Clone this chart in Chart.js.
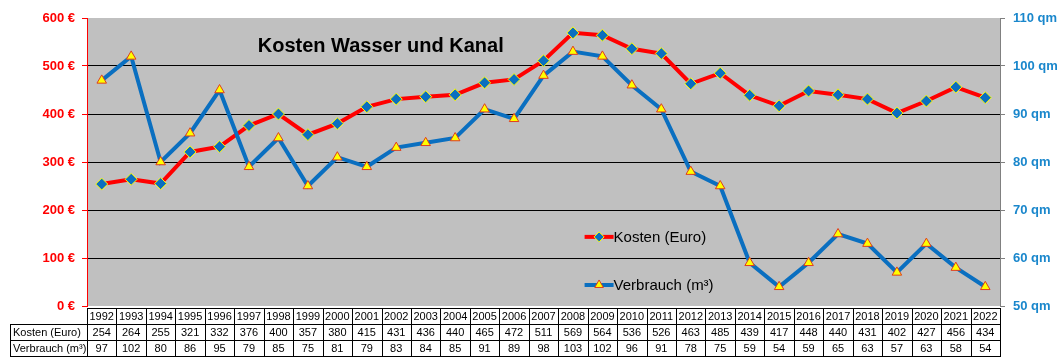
<!DOCTYPE html>
<html>
<head>
<meta charset="utf-8">
<script src="https://cdn.jsdelivr.net/npm/chart.js@4/dist/chart.umd.min.js"></script>
<style>
  html, body { margin: 0; padding: 0; background: #fff; }
  #wrap { width: 1060px; height: 359px; }
</style>
</head>
<body>
<div id="wrap"><canvas id="chart" width="1060" height="359"></canvas></div>
<script>
const years = ['1992','1993','1994','1995','1996','1997','1998','1999','2000','2001','2002','2003','2004','2005','2006','2007','2008','2009','2010','2011','2012','2013','2014','2015','2016','2017','2018','2019','2020','2021','2022'];
const kosten = [254,264,255,321,332,376,400,357,380,415,431,436,440,465,472,511,569,564,536,526,463,485,439,417,448,440,431,402,427,456,434];
const verbrauch = [97,102,80,86,95,79,85,75,81,79,83,84,85,91,89,98,103,102,96,91,78,75,59,54,59,65,63,57,63,58,54];
const rowLabels = ['Kosten (Euro)', 'Verbrauch (m³)'];
const chartTitle = 'Kosten Wasser und Kanal';

const RED = '#FF0000';
const BLUE = '#0A6FC0';
const AXIS_BLUE = '#1A87CC';
const YELLOW = '#FFFF00';

const panelPlugin = {
    id: 'panel',
    beforeDraw(chart) {
        const {ctx, chartArea: a} = chart;
        ctx.save();
        ctx.fillStyle = '#fff';
        ctx.fillRect(0, 0, chart.width, chart.height);
        ctx.fillStyle = '#C0C0C0';
        ctx.fillRect(a.left, a.top, a.right - a.left, a.bottom - a.top);
        ctx.restore();
    },
    afterDraw(chart) {
        const {ctx, chartArea: a} = chart;
        const x = chart.scales.x;
        const w = a.right - a.left;
        const h = a.bottom - a.top;
        ctx.save();

        // title inside the plot
        ctx.fillStyle = '#000';
        ctx.font = 'bold 20px Arial, "Liberation Sans", sans-serif';
        ctx.textAlign = 'left';
        ctx.textBaseline = 'middle';
        ctx.fillText(chartTitle, a.left + w * 0.187, a.top + h * 0.1);

        // legend inside the plot
        const lx = a.left + w * 0.545;
        const items = [
            {label: 'Kosten (Euro)', color: RED, style: 'rectRot', bg: BLUE, border: YELLOW, y: a.top + h * 0.76},
            {label: 'Verbrauch (m³)', color: BLUE, style: 'triangle', bg: YELLOW, border: '#E03C1E', y: a.top + h * 0.927}
        ];
        items.forEach(it => {
            ctx.strokeStyle = it.color;
            ctx.lineWidth = 4;
            ctx.beginPath();
            ctx.moveTo(lx, it.y);
            ctx.lineTo(lx + 29, it.y);
            ctx.stroke();
            ctx.fillStyle = it.bg;
            ctx.strokeStyle = it.border;
            ctx.lineWidth = 1;
            Chart.helpers.drawPoint(ctx, {pointStyle: it.style, radius: 5, borderWidth: 1}, lx + 14.5, it.y);
            ctx.fillStyle = '#000';
            ctx.font = '15px Arial, "Liberation Sans", sans-serif';
            ctx.textAlign = 'left';
            ctx.textBaseline = 'middle';
            ctx.fillText(it.label, lx + 29, it.y + 1);
        });

        // data table below the plot
        const colW = w / years.length;
        const rowH = 16;
        const top = a.bottom + 2;
        const labelLeft = 10;
        ctx.strokeStyle = '#000';
        ctx.lineWidth = 1;
        ctx.font = '11px Arial, "Liberation Sans", sans-serif';
        ctx.textBaseline = 'middle';
        ctx.fillStyle = '#000';

        // years row
        ctx.strokeRect(a.left + 0.5, top + 0.5, w, rowH);
        // value rows
        ctx.strokeRect(labelLeft + 0.5, top + rowH + 0.5, a.right - labelLeft, rowH * 2);
        ctx.beginPath();
        ctx.moveTo(labelLeft, top + rowH * 2 + 0.5);
        ctx.lineTo(a.right, top + rowH * 2 + 0.5);
        ctx.moveTo(Math.round(a.left) + 0.5, top + rowH);
        ctx.lineTo(Math.round(a.left) + 0.5, top + rowH * 3);
        for (let i = 1; i < years.length; i++) {
            const cx = Math.round(x.getPixelForValue(i) - colW / 2) + 0.5;
            ctx.moveTo(cx, top);
            ctx.lineTo(cx, top + rowH * 3);
        }
        ctx.stroke();

        ctx.textAlign = 'left';
        rowLabels.forEach((lab, r) => {
            ctx.fillText(lab, labelLeft + 3, top + rowH * (r + 1.5) + 1);
        });
        ctx.textAlign = 'center';
        years.forEach((yr, i) => {
            const cx = x.getPixelForValue(i);
            ctx.fillText(yr, cx, top + rowH * 0.5 + 1);
            ctx.fillText(String(kosten[i]), cx, top + rowH * 1.5 + 1);
            ctx.fillText(String(verbrauch[i]), cx, top + rowH * 2.5 + 1);
        });
        ctx.restore();
    }
};

new Chart(document.getElementById('chart').getContext('2d'), {
    type: 'line',
    data: {
        labels: years,
        datasets: [
            {
                label: rowLabels[0],
                data: kosten,
                yAxisID: 'y',
                borderColor: RED,
                borderWidth: 4,
                pointStyle: 'rectRot',
                pointRadius: 6,
                pointBackgroundColor: BLUE,
                pointBorderColor: YELLOW,
                pointBorderWidth: 1,
                tension: 0,
                order: 2
            },
            {
                label: rowLabels[1],
                data: verbrauch,
                yAxisID: 'y1',
                borderColor: BLUE,
                borderWidth: 4,
                pointStyle: 'triangle',
                pointRadius: 5.5,
                pointBackgroundColor: YELLOW,
                pointBorderColor: '#E03C1E',
                pointBorderWidth: 1,
                tension: 0,
                order: 1
            }
        ]
    },
    options: {
        responsive: false,
        animation: false,
        layout: {padding: {top: 18, bottom: 53, left: 0, right: 0}},
        plugins: {
            legend: {display: false},
            title: {display: false},
            tooltip: {enabled: false}
        },
        scales: {
            x: {
                type: 'category',
                offset: true,
                display: false
            },
            y: {
                position: 'left',
                min: 0,
                max: 600,
                afterFit: s => { s.width = 87; },
                ticks: {
                    stepSize: 100,
                    color: RED,
                    padding: 7,
                    font: {family: 'Arial, "Liberation Sans", sans-serif', size: 13, weight: 'bold'},
                    callback: v => v + ' €'
                },
                grid: {
                    color: c => (c.tick.value === 0 || c.tick.value === 600) ? 'rgba(0,0,0,0)' : '#000',
                    tickColor: RED,
                    tickLength: 5,
                    lineWidth: 1
                },
                border: {color: RED, width: 1}
            },
            y1: {
                position: 'right',
                min: 50,
                max: 110,
                afterFit: s => { s.width = 60; },
                ticks: {
                    stepSize: 10,
                    color: AXIS_BLUE,
                    padding: 8,
                    font: {family: 'Arial, "Liberation Sans", sans-serif', size: 13, weight: 'bold'},
                    callback: v => v + ' qm'
                },
                grid: {
                    drawOnChartArea: false,
                    tickColor: '#808080',
                    tickLength: 5
                },
                border: {color: '#808080', width: 1}
            }
        }
    },
    plugins: [panelPlugin]
});
</script>
</body>
</html>
